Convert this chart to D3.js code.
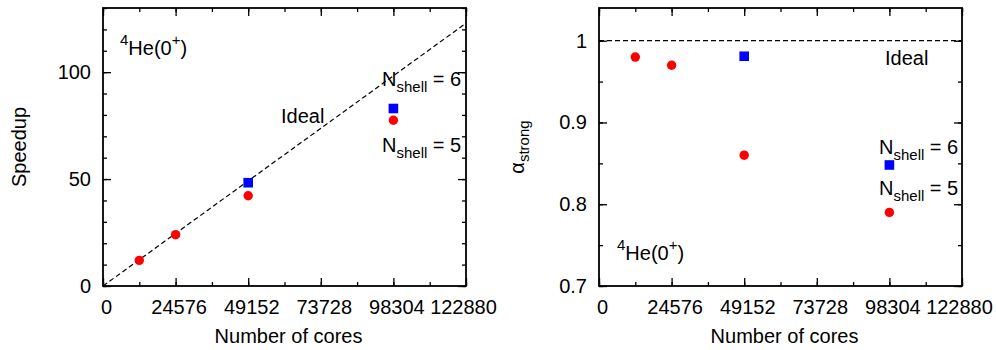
<!DOCTYPE html>
<meta charset="utf-8">
<style>
    body { margin: 0; background: #fff; }
    svg text { font-family: "Liberation Sans", Arial, Helvetica, sans-serif; fill: #000; }
    .tick line { stroke: #000; stroke-width: 1.3; }
    .frame { fill: none; stroke: #000; stroke-width: 1.8; }
</style>
<body>
<script src="https://cdn.jsdelivr.net/npm/d3@7"></script>
<script>

    var width = 996,
        height = 350;

    // data
    var cores = [12288, 24576, 49152, 98304];
    var speedup5 = [12, 24, 42.2, 77.5];
    var cores6 = [49152, 98304];
    var speedup6 = [48.3, 83];
    var alpha5 = [0.98, 0.97, 0.86, 0.79];
    var alpha6 = [0.981, 0.848];
    var xTicks = [0, 24576, 49152, 73728, 98304, 122880];
    var xMinor = d3.range(0, 122881, 12288);
    var speedTicks = [0, 50, 100];
    var speedMinor = d3.range(0, 131, 10);
    var alphaTicks = [0.7, 0.8, 0.9, 1];
    var alphaMinor = [0.7, 0.75, 0.8, 0.85, 0.9, 0.95, 1];
    var idealBase = 1000;

    var svg = d3.select("body").append("svg")
        .attr("width", width)
        .attr("height", height);

    var plotTop = 8, plotBottom = 286;

    function panel(left, right, yDomain, yTicks, yMinor, yFmt) {
        var x = d3.scaleLinear().domain([0, 122880]).range([left, right]);
        var y = d3.scaleLinear().domain(yDomain).range([plotBottom, plotTop]);

        var g = svg.append("g");

        // minor ticks all round
        g.append("g").attr("transform", "translate(0," + plotBottom + ")")
            .call(d3.axisBottom(x).tickValues(xMinor).tickSize(-4).tickSizeOuter(0).tickFormat(""));
        g.append("g").attr("transform", "translate(0," + plotTop + ")")
            .call(d3.axisTop(x).tickValues(xMinor).tickSize(-4).tickSizeOuter(0).tickFormat(""));
        g.append("g").attr("transform", "translate(" + left + ",0)")
            .call(d3.axisLeft(y).tickValues(yMinor).tickSize(-4).tickSizeOuter(0).tickFormat(""));
        g.append("g").attr("transform", "translate(" + right + ",0)")
            .call(d3.axisRight(y).tickValues(yMinor).tickSize(-4).tickSizeOuter(0).tickFormat(""));

        // major ticks
        var xAxis = g.append("g").attr("transform", "translate(0," + plotBottom + ")")
            .call(d3.axisBottom(x).tickValues(xTicks).tickSize(-8).tickSizeOuter(0).tickPadding(14).tickFormat(d3.format("d")));
        g.append("g").attr("transform", "translate(0," + plotTop + ")")
            .call(d3.axisTop(x).tickValues(xTicks).tickSize(-8).tickSizeOuter(0).tickFormat(""));
        g.append("g").attr("transform", "translate(" + left + ",0)")
            .call(d3.axisLeft(y).tickValues(yTicks).tickSize(-8).tickSizeOuter(0).tickPadding(12).tickFormat(yFmt));
        g.append("g").attr("transform", "translate(" + right + ",0)")
            .call(d3.axisRight(y).tickValues(yTicks).tickSize(-8).tickSizeOuter(0).tickFormat(""));

        g.selectAll(".domain").remove();
        g.selectAll(".tick text").attr("font-size", 20).attr("fill", "#000")
            .style("font-family", "'Liberation Sans', Arial, sans-serif");
        // last label sits a bit left, the others a bit right
        xAxis.selectAll("text").attr("dx", function (d, i) { return i == xTicks.length - 1 ? -3 : 3; });

        g.append("rect").attr("class", "frame")
            .attr("x", left).attr("y", plotTop)
            .attr("width", right - left).attr("height", plotBottom - plotTop);

        g.append("text").attr("x", (left + right) / 2 + 4).attr("y", 343)
            .attr("text-anchor", "middle").attr("font-size", 20)
            .text("Number of cores");

        return {x: x, y: y, g: g};
    }

    function circles(p, xs, ys) {
        p.g.selectAll(null).data(xs).enter().append("circle")
            .attr("cx", function (d) { return p.x(d); })
            .attr("cy", function (d, i) { return p.y(ys[i]); })
            .attr("r", 4.7)
            .attr("fill", "#ff0000");
    }

    function squares(p, xs, ys) {
        p.g.selectAll(null).data(xs).enter().append("rect")
            .attr("x", function (d) { return p.x(d) - 4.8; })
            .attr("y", function (d, i) { return p.y(ys[i]) - 4.8; })
            .attr("width", 9.6).attr("height", 9.6)
            .attr("fill", "#0000ff");
    }

    function heLabel(g, x, y) {
        var t = g.append("text").attr("x", x).attr("y", y).attr("font-size", 20);
        t.append("tspan").attr("font-size", 15).attr("dy", -10).text("4");
        t.append("tspan").attr("dy", 10).text("He(0");
        t.append("tspan").attr("font-size", 15).attr("dy", -10).text("+");
        t.append("tspan").attr("dy", 10).text(")");
    }

    function nLabel(g, x, y, n) {
        var t = g.append("text").attr("x", x).attr("y", y).attr("font-size", 20);
        t.append("tspan").text("N");
        t.append("tspan").attr("font-size", 15).attr("dy", 6).text("shell");
        t.append("tspan").attr("dy", -6).text(" = " + n);
    }

    // left panel: speedup
    var p1 = panel(103, 466, [0, 130], speedTicks, speedMinor, d3.format("d"));

    var line = d3.line()
        .x(function (d) { return p1.x(d); })
        .y(function (d) { return p1.y(d / idealBase); });
    p1.g.append("path")
        .datum([0, 122880])
        .attr("d", line)
        .attr("fill", "none")
        .attr("stroke", "#000")
        .attr("stroke-width", 1.2)
        .attr("stroke-dasharray", "5,3");

    circles(p1, cores, speedup5);
    squares(p1, cores6, speedup6);

    heLabel(p1.g, 120, 55);
    p1.g.append("text").attr("x", 281).attr("y", 123).attr("font-size", 20).text("Ideal");
    nLabel(p1.g, 382, 86, 6);
    nLabel(p1.g, 382, 152, 5);

    p1.g.append("text")
        .attr("transform", "translate(26,147) rotate(-90)")
        .attr("text-anchor", "middle").attr("font-size", 20)
        .text("Speedup");

    // right panel: alpha strong
    var p2 = panel(599, 962, [0.7, 1.04], alphaTicks, alphaMinor, function (d) { return d == 1 ? "1" : d3.format(".1f")(d); });

    p2.g.append("line")
        .attr("x1", p2.x(0)).attr("x2", p2.x(122880))
        .attr("y1", p2.y(1)).attr("y2", p2.y(1))
        .attr("stroke", "#000")
        .attr("stroke-width", 1.2)
        .attr("stroke-dasharray", "5,3");

    circles(p2, cores, alpha5);
    squares(p2, cores6, alpha6);

    heLabel(p2.g, 617, 260);
    p2.g.append("text").attr("x", 885).attr("y", 65).attr("font-size", 20).text("Ideal");
    nLabel(p2.g, 879, 154, 6);
    nLabel(p2.g, 879, 195, 5);

    var yl = p2.g.append("text")
        .attr("transform", "translate(524,147) rotate(-90)")
        .attr("text-anchor", "middle").attr("font-size", 20);
    yl.append("tspan").text("α");
    yl.append("tspan").attr("font-size", 15).attr("dy", 5).text("strong");

</script>
